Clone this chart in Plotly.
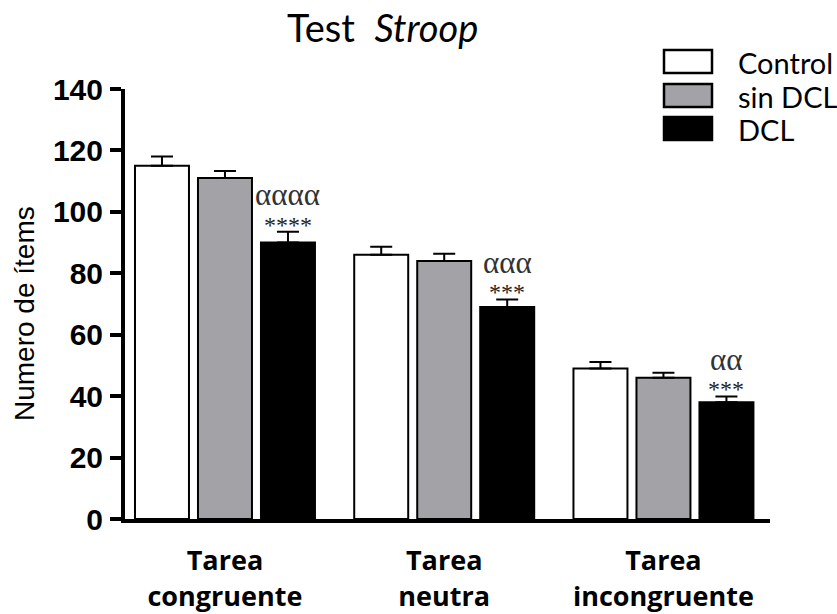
import plotly.graph_objects as go

# Stroop test: number of items per task and group (mean + SEM)
tasks = ["Tarea<br>congruente", "Tarea<br>neutra", "Tarea<br>incongruente"]
groups = ["Control", "sin DCL", "DCL"]

control_vals = [115, 86, 49]
control_err = [3.0, 2.6, 2.1]
sindcl_vals = [111, 84, 46]
sindcl_err = [2.3, 2.4, 1.6]
dcl_vals = [90, 69, 38]
dcl_err = [3.5, 2.5, 1.9]

alpha_marks = ["αααα", "ααα", "αα"]
star_marks = ["****", "***", "***"]

y_ticks = [0, 20, 40, 60, 80, 100, 120, 140]

fills = ["#ffffff", "#a3a3a7", "#000000"]
series_vals = [control_vals, sindcl_vals, dcl_vals]
series_err = [control_err, sindcl_err, dcl_err]

W, H = 837, 614
M_L, M_R, M_T, M_B = 125, 67, 89, 95
PW, PH = W - M_L - M_R, H - M_T - M_B


def px_x(px):
    return (px - M_L) / PW


def px_y(py):
    return (H - M_B - py) / PH


fig = go.Figure()
for name, vals, errs, col in zip(groups, series_vals, series_err, fills):
    fig.add_trace(go.Bar(
        x=tasks, y=vals, name=name, showlegend=False,
        marker=dict(color=col, line=dict(color="black", width=2)),
        error_y=dict(type="data", symmetric=False, array=errs,
                     arrayminus=[0] * len(errs), color="black",
                     thickness=2, width=11),
    ))

# significance marks over the DCL bars
slot = 0.862 / 3
for i, (a, s) in enumerate(zip(alpha_marks, star_marks)):
    top = dcl_vals[i] + dcl_err[i]
    fig.add_annotation(x=i + slot, y=top, xref="x", yref="y", text=s,
                       showarrow=False, yanchor="middle", yshift=7,
                       font=dict(family="Liberation Serif", size=24, color="#222"))
    fig.add_annotation(x=i + slot, y=top, xref="x", yref="y", text=a,
                       showarrow=False, yanchor="middle", yshift=37,
                       font=dict(family="Liberation Serif", size=31, color="#333"))

# title
fig.add_annotation(x=px_x(382), y=px_y(27), xref="paper", yref="paper",
                   text="Test\u00a0 <i>Stroop</i>", showarrow=False,
                   xanchor="center", yanchor="middle",
                   font=dict(family="Lato", size=38, color="black"))

# y-axis title
fig.add_annotation(x=px_x(24), y=px_y(313), xref="paper", yref="paper",
                   text="Numero de ítems", textangle=-90, showarrow=False,
                   xanchor="center", yanchor="middle",
                   font=dict(family="Liberation Sans", size=28, color="black"))

# legend: boxes + labels
legend_rows = [(50, 73), (84, 107), (117, 140)]
for (y0, y1), name, col in zip(legend_rows, groups, fills):
    fig.add_shape(type="rect", xref="paper", yref="paper",
                  x0=px_x(664), x1=px_x(712), y0=px_y(y1), y1=px_y(y0),
                  fillcolor=col, line=dict(color="black", width=2.5))
    fig.add_annotation(x=px_x(736), y=px_y((y0 + y1) / 2 + 1), xref="paper",
                       yref="paper", text=name, showarrow=False,
                       xanchor="left", yanchor="middle",
                       font=dict(family="Lato", size=29, color="black"))

fig.update_layout(
    width=W, height=H,
    margin=dict(l=M_L, r=M_R, t=M_T, b=M_B),
    paper_bgcolor="white", plot_bgcolor="white",
    barmode="group", bargap=0.138, bargroupgap=0.143,
    xaxis=dict(range=[-0.456, 2.486], showline=True, linecolor="black",
               linewidth=4, ticks="", showgrid=False, zeroline=False,
               automargin=False,
               tickfont=dict(family="Open Sans", size=27, color="black", weight="bold"),
               ticklabelstandoff=15),
    yaxis=dict(range=[0, 140], tickvals=y_ticks, showline=True,
               linecolor="black", linewidth=4, ticks="outside", ticklen=11,
               tickwidth=3.5, tickcolor="black", showgrid=False, zeroline=False,
               automargin=False,
               tickfont=dict(family="Liberation Sans", size=30, color="black",
                             weight="bold"),
               ticklabelstandoff=1),
)

fig.write_html("out.html")
